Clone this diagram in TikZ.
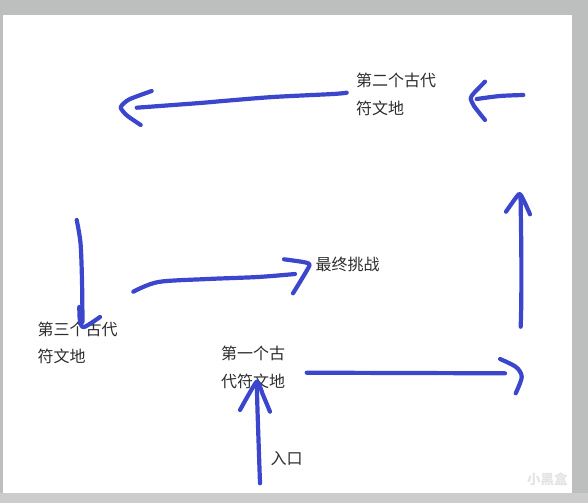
\documentclass[tikz,border=0pt]{standalone}
\usepackage{fontspec}
\setmainfont{Noto Sans CJK SC}
\definecolor{inkblue}{RGB}{60,70,205}
\definecolor{framegray}{RGB}{189,191,190}
\definecolor{framegraylow}{RGB}{203,204,203}
\definecolor{labelgray}{RGB}{45,45,45}
\definecolor{markgray}{RGB}{228,228,228}
\tikzset{
  inkline/.style={draw=inkblue, line width=4.2pt, line cap=round, line join=round},
  label text/.style={font=\fontsize{16}{27.5}\selectfont, text=labelgray, inner sep=0pt, align=left, anchor=west},
}
\begin{document}
\begin{tikzpicture}[x=1pt,y=-1pt]
% background frame and canvas
\fill[framegray] (0,0) rectangle (588,503);
\fill[framegraylow] (0,492.5) rectangle (588,503);
\fill[white] (3,15) rectangle (571.5,492.5);
\useasboundingbox (0,0) rectangle (588,503);

% watermark
\node[font=\bfseries\fontsize{13.5}{14}\selectfont, text=markgray, inner sep=0pt, anchor=west] (mark) at (527,479) {小黑盒};

% labels
\node[label text] (second) at (356,94.3) {第二个古代\\符文地};
\node[label text] (third) at (37.5,343) {第三个古代\\符文地};
\node[label text] (first) at (221,367.5) {第一个古\\代符文地};
\node[label text] (final) at (315.5,264.5) {最终挑战};
\node[label text] (entry) at (270.5,459) {入口};

% stroke end points
\coordinate (aS) at (346.7,92.7);  \coordinate (aE) at (136.7,107.7);
\coordinate (bS) at (523.3,95);    \coordinate (bE) at (476.7,99);
\coordinate (cS) at (520.7,326.7); \coordinate (cE) at (520.5,195);
\coordinate (dS) at (306.7,372.7); \coordinate (dE) at (505,373.3);
\coordinate (eS) at (260,483.3);   \coordinate (eE) at (256.7,382);
\coordinate (fS) at (76.7,220);    \coordinate (fE) at (82.5,322);
\coordinate (gS) at (133.3,291.7); \coordinate (gE) at (295,274);

% top long arrow (from second site leftwards)
\draw[inkline] plot[smooth, tension=0.5] coordinates {(aS) (333,94) (273,97) (223,101) (200,103) (aE)};
\draw[inkline] plot[smooth, tension=0.4] coordinates {(151.7,91) (129,99.5) (120.7,107.3) (127,115.5) (140.7,125)};

% small arrow into second site
\draw[inkline] plot[smooth, tension=0.5] coordinates {(bS) (500,96) (bE)};
\draw[inkline] plot[smooth, tension=0.4] coordinates {(485,81.7) (474,93) (470.7,98.3) (474,106) (485,120)};

% right vertical arrow
\draw[inkline] plot[smooth, tension=0.5] coordinates {(cS) (521.3,300) (521.3,250) (cE)};
\draw[inkline] plot[smooth, tension=0.3] coordinates {(506,211.7) (519,194) (524,201) (530,214.3)};

% bottom horizontal arrow
\draw[inkline] (dS) -- (dE);
\draw[inkline] plot[smooth, tension=0.5] coordinates {(500,359) (516,367) (521.7,377) (515.7,393.3)};

% entry arrow
\draw[inkline] plot[smooth, tension=0.5] coordinates {(eS) (258.5,440) (257.5,410) (eE)};
\draw[inkline] plot[smooth, tension=0.3] coordinates {(240,410) (256.7,381.7) (263,395) (270,411.7)};

% left vertical arrow (down to third site)
\draw[inkline] plot[smooth, tension=0.5] coordinates {(fS) (80.5,243) (82,280) (fE)};
\draw[inkline] plot[smooth, tension=0.5] coordinates {(79.3,307) (80,321) (84,327) (100,317)};

% arrow to final challenge
\draw[inkline] plot[smooth, tension=0.5] coordinates {(gS) (158.3,282) (208,279) (258,277) (gE)};
\draw[inkline] plot[smooth, tension=0.3] coordinates {(284,259.3) (303,262) (309.5,265.5) (293,293.3)};
\end{tikzpicture}
\end{document}
